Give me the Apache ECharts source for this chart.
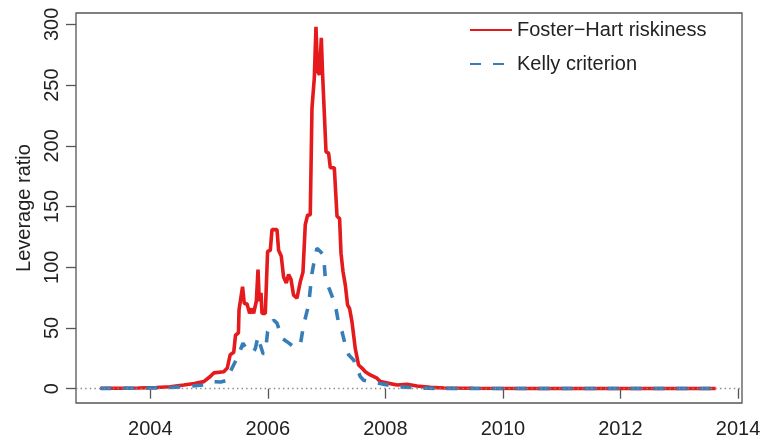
<!DOCTYPE html>
<html>
<head>
<meta charset="utf-8">
<script src="https://cdn.jsdelivr.net/npm/echarts@6/dist/echarts.min.js"></script>
<style>
  html, body { margin: 0; padding: 0; background: #fff; }
  #chart { width: 764px; height: 440px; }
</style>
</head>
<body>
<div id="chart"></div>
<script>
// [year, leverage ratio]
const fosterHart = [
  [2003.15, 0.3], [2003.5, 0.4], [2003.8, 0.6], [2004.1, 1.0], [2004.34, 1.6],
  [2004.57, 3], [2004.75, 4.2], [2004.91, 5.8], [2005.02, 10], [2005.08, 13],
  [2005.25, 14], [2005.31, 17], [2005.36, 28], [2005.42, 30], [2005.45, 44],
  [2005.5, 46], [2005.51, 65], [2005.54, 66], [2005.57, 84], [2005.6, 70],
  [2005.645, 70], [2005.69, 62], [2005.73, 66], [2005.758, 62], [2005.804, 72],
  [2005.833, 98], [2005.855, 72], [2005.884, 79], [2005.901, 62], [2005.957, 62],
  [2005.996, 113], [2006.042, 114], [2006.071, 131], [2006.156, 131], [2006.183, 114],
  [2006.229, 109], [2006.268, 92], [2006.314, 87], [2006.353, 94], [2006.382, 95],
  [2006.394, 90], [2006.438, 77], [2006.496, 74.5], [2006.552, 88], [2006.598, 96],
  [2006.637, 135], [2006.677, 143], [2006.722, 143], [2006.751, 231], [2006.791, 256],
  [2006.819, 298], [2006.847, 261], [2006.881, 258.6], [2006.91, 289], [2006.932, 258.6],
  [2006.966, 258.6], [2006.99, 195], [2007.034, 194], [2007.063, 182], [2007.131, 182],
  [2007.177, 142], [2007.221, 140], [2007.245, 111.6], [2007.279, 96.5], [2007.318, 85.5],
  [2007.357, 69], [2007.391, 66], [2007.432, 55], [2007.488, 33], [2007.544, 19.5],
  [2007.602, 17], [2007.658, 14], [2007.743, 11.3], [2007.857, 8.6], [2007.914, 5.8],
  [2008.198, 3], [2008.368, 3.6], [2008.538, 2.2], [2008.764, 1.1], [2009.0, 0.5],
  [2009.5, 0.3], [2010.5, 0.2], [2011.5, 0.2], [2012.5, 0.2], [2013.62, 0.2]
]

const kelly = [
  [2003.15, 0.2], [2003.6, 0.3], [2004.0, 0.5], [2004.34, 1.0], [2004.57, 1.6],
  [2004.91, 3], [2005.05, 5.8], [2005.2, 5.5], [2005.305, 7], [2005.361, 14],
  [2005.475, 25], [2005.502, 28], [2005.577, 37.4], [2005.645, 32], [2005.747, 30],
  [2005.787, 33], [2005.833, 43], [2005.872, 36], [2005.918, 29], [2005.957, 29],
  [2005.996, 47], [2006.042, 50], [2006.098, 56.6], [2006.156, 54], [2006.241, 41.5],
  [2006.326, 38.7], [2006.438, 34.6], [2006.496, 34.6], [2006.552, 36], [2006.609, 52.5],
  [2006.694, 69], [2006.751, 95], [2006.808, 110], [2006.836, 115.7], [2006.893, 113],
  [2006.949, 110], [2006.978, 91], [2007.017, 85.5], [2007.063, 80], [2007.148, 69],
  [2007.204, 54], [2007.262, 47], [2007.318, 36], [2007.374, 28], [2007.459, 23.7],
  [2007.517, 17], [2007.573, 10], [2007.629, 7], [2007.743, 5.8], [2007.885, 4.5],
  [2008.198, 1.6], [2008.708, 0.3], [2009.5, 0.1], [2010.5, 0.1], [2011.5, 0.1],
  [2012.5, 0.1], [2013.62, 0.1]
]

const xTicks = [2004, 2006, 2008, 2010, 2012, 2014]
const yTicks = [0, 50, 100, 150, 200, 250, 300]

const font = 'Liberation Sans, Arial, Helvetica, sans-serif'
const axisGray = '#555'

const chart = echarts.init(document.getElementById('chart'), null, { renderer: 'canvas' })

chart.setOption({
  animation: false,
  textStyle: { fontFamily: font, color: '#222' },
  grid: {
    left: 76, right: 22, top: 13, bottom: 37,
    show: true, borderColor: axisGray, borderWidth: 1.3, backgroundColor: 'transparent'
  },
  legend: {
    left: 464, top: 15, orient: 'vertical',
    itemWidth: 42, itemHeight: 14, itemGap: 14,
    itemStyle: { opacity: 0 },
    textStyle: { fontSize: 20, color: '#222', fontFamily: font },
    data: ['Foster\u2212Hart riskiness', 'Kelly criterion']
  },
  xAxis: {
    type: 'value', min: 2002.736, max: 2014.068,
    splitLine: { show: false },
    axisLine: { show: false },
    axisTick: { show: true, length: 10, customValues: xTicks, lineStyle: { color: axisGray, width: 1.3 } },
    axisLabel: {
      customValues: xTicks, margin: 16, fontSize: 20, color: '#222', fontFamily: font,
      formatter: v => String(v)
    }
  },
  yAxis: {
    type: 'value', min: -11.8, max: 309.4,
    name: 'Leverage ratio', nameLocation: 'middle', nameGap: 40, nameRotate: 90,
    nameTextStyle: { fontSize: 20, color: '#222', fontFamily: font },
    splitLine: { show: false },
    axisLine: { show: false },
    axisTick: { show: true, length: 10, customValues: yTicks, lineStyle: { color: axisGray, width: 1.3 } },
    axisLabel: { customValues: yTicks, rotate: 90, margin: 14, fontSize: 20, color: '#222', fontFamily: font }
  },
  series: [
    {
      name: 'Foster\u2212Hart riskiness', type: 'line', data: fosterHart,
      symbol: 'none', z: 3,
      lineStyle: { color: '#E41A1C', width: 3.6 },
      itemStyle: { color: '#E41A1C' },
      markLine: {
        silent: true, symbol: 'none', label: { show: false },
        lineStyle: { color: '#888', width: 1.4, type: [1.4, 3.2] },
        data: [{ yAxis: 0 }]
      }
    },
    {
      name: 'Kelly criterion', type: 'line', data: kelly,
      symbol: 'none', z: 4,
      lineStyle: { color: '#377EB8', width: 3.6, type: [11, 12] },
      itemStyle: { color: '#377EB8' }
    }
  ]
})
</script>
</body>
</html>
